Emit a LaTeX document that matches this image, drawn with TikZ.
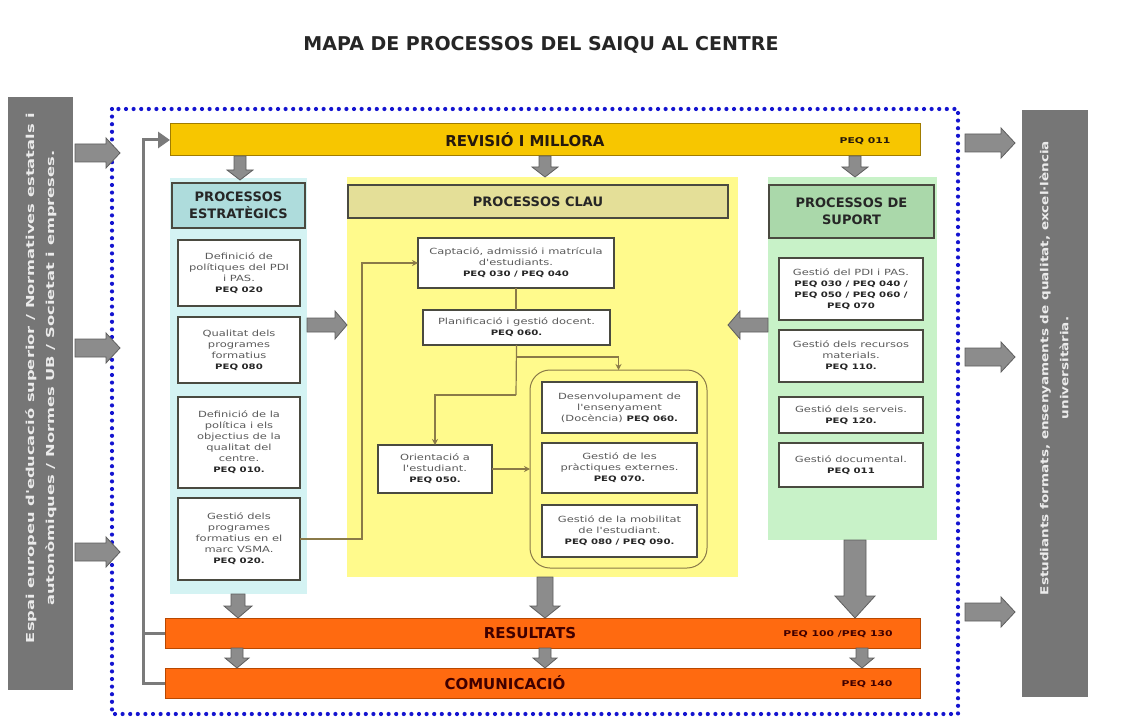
\documentclass[tikz,border=0pt]{standalone}
\usepackage{fontspec}
\setmainfont{DejaVu Sans}
\newfontfamily\bx{DejaVu Sans}[FakeStretch=1.35]
\newfontfamily\sidefA{DejaVu Sans}[FakeStretch=1.48]
\newfontfamily\sidefB{DejaVu Sans}[FakeStretch=1.23]
\usetikzlibrary{arrows.meta}
\definecolor{sidegray}{HTML}{767676}
\definecolor{arrgray}{HTML}{8C8C8C}
\definecolor{arredge}{HTML}{5E5E5E}
\definecolor{gold}{HTML}{F7C600}
\definecolor{goldedge}{HTML}{A07C00}
\definecolor{orng}{HTML}{FF6A10}
\definecolor{orngedge}{HTML}{B84800}
\definecolor{cyanbg}{HTML}{D4F3F3}
\definecolor{cyanhd}{HTML}{AEDCDC}
\definecolor{yelbg}{HTML}{FFFA8C}
\definecolor{yelhd}{HTML}{E4DF98}
\definecolor{grnbg}{HTML}{C8F2C8}
\definecolor{grnhd}{HTML}{AAD8AA}
\definecolor{boxedge}{HTML}{4A4A40}
\definecolor{txtgray}{HTML}{5A5A5A}
\definecolor{lineol}{HTML}{8A7A48}
\definecolor{dotblue}{HTML}{1414D0}
\definecolor{fbgray}{HTML}{7A7A7A}
\newcommand\rbox[7][]{\node[#1, minimum width={(#5-#3)*1pt}, minimum height={(#6-#4)*1pt}] (#2) at ({(#3+#5)/2},{(#4+#6)/2}) {#7};}
\newcommand\peq[1]{{\fontsize{7.5}{10}\selectfont\bfseries\color{black!85}#1}}
% down block arrow: x, ytop, ybot, bodyhalf, headhalf, headlen
\newcommand\arrD[6]{\draw[blk] ({#1-#4},#2) -- ({#1+#4},#2) -- ({#1+#4},{#3-#6}) -- ({#1+#5},{#3-#6}) -- (#1,#3) -- ({#1-#5},{#3-#6}) -- ({#1-#4},{#3-#6}) -- cycle;}
% right block arrow: y, xleft, xright(tip), bodyhalf, headhalf, headlen
\newcommand\arrR[6]{\draw[blk] (#2,{#1-#4}) -- ({#3-#6},{#1-#4}) -- ({#3-#6},{#1-#5}) -- (#3,#1) -- ({#3-#6},{#1+#5}) -- ({#3-#6},{#1+#4}) -- (#2,{#1+#4}) -- cycle;}
% left block arrow: y, xright, xleft(tip), bodyhalf, headhalf, headlen
\newcommand\arrL[6]{\draw[blk] (#2,{#1-#4}) -- ({#3+#6},{#1-#4}) -- ({#3+#6},{#1-#5}) -- (#3,#1) -- ({#3+#6},{#1+#5}) -- ({#3+#6},{#1+#4}) -- (#2,{#1+#4}) -- cycle;}
\begin{document}
\begin{tikzpicture}[x=1pt,y=-1pt,
  every node/.style={inner sep=1pt, outer sep=0pt},
  wbox/.style={draw=boxedge, line width=1.1pt, fill=white, align=center, text=txtgray, font=\bx\fontsize{8.5}{11}\selectfont},
  hdr/.style={draw=boxedge, line width=1.1pt, align=center, font=\bfseries\fontsize{13}{17}\selectfont, text=black!85},
  barlbl/.style={font=\bfseries\fontsize{15}{18}\selectfont},
  barpeq/.style={font=\bx\bfseries\fontsize{8}{10}\selectfont},
  blk/.style={fill=arrgray, draw=arredge, line width=0.8pt},
  thinc/.style={draw=lineol, line width=1.2pt},
  tip/.style={-{Stealth[length=6pt,width=6pt]}},
  grp/.style={draw=lineol, line width=1pt, rounded corners=20pt},
  sidetxt/.style={rotate=90, text=white!92!black, align=center},
]
\fill[white] (0,0) rectangle (1134,722);
\useasboundingbox (0,0) rectangle (1134,722);

\node[font=\bfseries\fontsize{19}{22}\selectfont, text=black!85] (title) at (541,45) {MAPA DE PROCESSOS DEL SAIQU AL CENTRE};

% side bars
\rbox[fill=sidegray]{inp}{8}{97}{73}{690}{}
\node[sidetxt, font=\sidefA\bfseries\fontsize{11}{20}\selectfont] (inptxt) at (41,378) {Espai europeu d'educació superior / Normatives estatals i\\autonòmiques / Normes UB / Societat i empreses.};
\rbox[fill=sidegray]{out}{1022}{110}{1088}{697}{}
\node[sidetxt, font=\sidefB\bfseries\fontsize{11}{20}\selectfont] (outtxt) at (1054,368) {Estudiants formats, ensenyaments de qualitat, excel·lència\\universitària.};

% dotted frame
\draw[dotblue, line width=4.2pt, line cap=round, dash pattern=on 0pt off 7.6pt] (112,109) rectangle (958,714);

% input / output arrows
\arrR{153}{75}{120}{9}{15}{14}
\arrR{348}{75}{120}{9}{15}{14}
\arrR{552}{75}{120}{9}{15}{14}
\arrR{143}{965}{1015}{9}{15}{14}
\arrR{357}{965}{1015}{9}{15}{14}
\arrR{612}{965}{1015}{9}{15}{14}

% bars
\rbox[fill=gold, draw=goldedge, line width=1pt]{rev}{170}{124}{920}{156}{}
\node[barlbl, text=black!80!brown] (revlbl) at (525,140) {REVISIÓ I MILLORA};
\node[barpeq, text=black!80!brown] (revpeq) at (865,141) {PEQ 011};
\rbox[fill=orng, draw=orngedge, line width=1pt]{res}{165}{618}{920}{648}{}
\node[barlbl, text=black!75!red] (reslbl) at (530,633) {RESULTATS};
\node[barpeq, text=black!75!red] (respeq) at (838,634) {PEQ 100 /PEQ 130};
\rbox[fill=orng, draw=orngedge, line width=1pt]{com}{165}{668}{920}{698}{}
\node[barlbl, text=black!75!red] (comlbl) at (505,683) {COMUNICACIÓ};
\node[barpeq, text=black!75!red] (compeq) at (867,684) {PEQ 140};

% strategic column
\rbox[fill=cyanbg]{stratbg}{170}{178}{307}{594}{}
\rbox[hdr, fill=cyanhd]{strathd}{172}{183}{305}{228}{PROCESSOS\\ESTRATÈGICS}
\rbox[wbox]{s1}{178}{240}{300}{306}{Definició de\\polítiques del PDI\\i PAS.\\\peq{PEQ 020}}
\rbox[wbox]{s2}{178}{317}{300}{383}{Qualitat dels\\programes\\formatius\\\peq{PEQ 080}}
\rbox[wbox]{s3}{178}{397}{300}{488}{Definició de la\\política i els\\objectius de la\\qualitat del\\centre.\\\peq{PEQ 010.}}
\rbox[wbox]{s4}{178}{498}{300}{580}{Gestió dels\\programes\\formatius en el\\marc VSMA.\\\peq{PEQ 020.}}

% key column
\rbox[fill=yelbg]{keybg}{347}{177}{738}{577}{}
\rbox[hdr, fill=yelhd]{keyhd}{348}{185}{728}{218}{PROCESSOS CLAU}
\rbox[wbox]{cap}{418}{238}{614}{288}{Captació, admissió i matrícula\\d'estudiants.\\\peq{PEQ 030 / PEQ 040}}
\rbox[wbox]{plan}{423}{310}{610}{345}{Planificació i gestió docent.\\\peq{PEQ 060.}}
\rbox[wbox]{ori}{378}{445}{492}{493}{Orientació a\\l'estudiant.\\\peq{PEQ 050.}}
\rbox[grp]{grp}{530}{370}{707}{568}{}
\rbox[wbox]{k1}{542}{382}{697}{433}{Desenvolupament de\\l'ensenyament\\(Docència) \peq{PEQ 060.}}
\rbox[wbox]{k2}{542}{443}{697}{493}{Gestió de les\\pràctiques externes.\\\peq{PEQ 070.}}
\rbox[wbox]{k3}{542}{505}{697}{557}{Gestió de la mobilitat\\de l'estudiant.\\\peq{PEQ 080 / PEQ 090.}}

% support column
\rbox[fill=grnbg]{supbg}{768}{177}{937}{540}{}
\rbox[hdr, fill=grnhd]{suphd}{769}{185}{934}{238}{PROCESSOS DE\\SUPORT}
\rbox[wbox]{p1}{779}{258}{923}{320}{Gestió del PDI i PAS.\\\peq{PEQ 030 / PEQ 040 /}\\\peq{PEQ 050 / PEQ 060 /}\\\peq{PEQ 070}}
\rbox[wbox]{p2}{779}{330}{923}{382}{Gestió dels recursos\\materials.\\\peq{PEQ 110.}}
\rbox[wbox]{p3}{779}{397}{923}{433}{Gestió dels serveis.\\\peq{PEQ 120.}}
\rbox[wbox]{p4}{779}{443}{923}{487}{Gestió documental.\\\peq{PEQ 011}}

% block arrows between parts
\arrD{240}{156}{180}{6}{13}{10}
\arrD{545}{156}{177}{6}{13}{10}
\arrD{855}{156}{177}{6}{13}{10}
\arrR{325}{307}{347}{7}{14}{12}
\arrL{325}{768}{728}{7}{14}{12}
\arrD{238}{594}{618}{7}{14}{12}
\arrD{545}{577}{618}{8}{15}{12}
\arrD{855}{540}{618}{11}{20}{22}
\arrD{237}{648}{668}{6}{12}{10}
\arrD{545}{648}{668}{6}{12}{10}
\arrD{862}{648}{668}{6}{12}{10}

% feedback loop
\coordinate (fbT) at (143,140);
\coordinate (fbB) at (143,683);
\draw[fbgray, line width=3pt, -{Triangle[length=12pt,width=16pt]}] (com.west) -- (fbB) -- (fbT) -- (rev.west);
\draw[fbgray, line width=3pt] (res.west) -- (fbB |- res.west);

% thin connectors in key processes
\coordinate (j1) at (516,357);
\coordinate (j2) at (516,395);
\draw[thinc, tip] (s4.east) -- ++(62,0) |- (cap.west);
\draw[thinc] (cap.south) -- (cap.south |- plan.north);
\draw[thinc] (plan.south) -- (j2);
\draw[thinc, tip] (j1) -| (grp.north);
\draw[thinc, tip] (j2) -| (ori.north);
\draw[thinc, tip] (ori.east) -- (grp.west |- ori.east);
\end{tikzpicture}
\end{document}
